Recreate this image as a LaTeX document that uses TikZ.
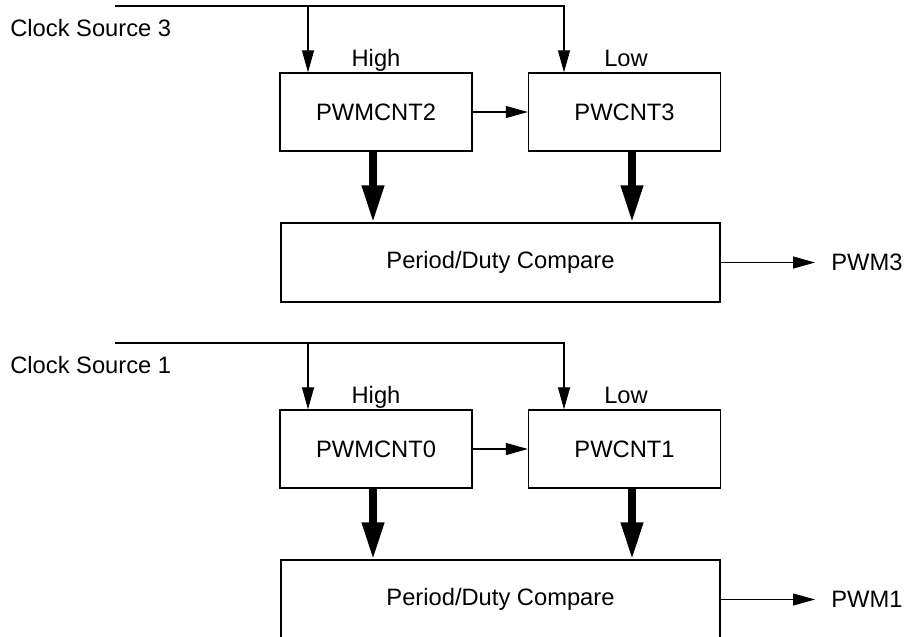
\documentclass[tikz,border=0pt]{standalone}
\usepackage{fontspec}
\setmainfont{Liberation Sans}
\usetikzlibrary{arrows.meta}
\tikzset{
  regbox/.style={draw, line width=0.75pt, minimum width=3.84cm,
    minimum height=1.56cm, inner sep=0pt},
  cmpbox/.style={draw, line width=0.75pt, minimum width=8.78cm,
    minimum height=1.58cm, inner sep=0pt},
  sigline/.style={line width=0.6pt, -{Triangle[length=4.4mm, width=2.4mm]}},
  busline/.style={line width=4pt, -{Triangle[length=7.4mm, width=4.2mm]}},
  tag/.style={inner sep=0pt}
}

\begin{document}
\begin{tikzpicture}[font=\fontsize{13.5}{16}\selectfont, line join=miter]
\useasboundingbox (0,0) rectangle (18.08,-12.72);

% ------------------------------------------------------------------
% one channel per pass: counter pair, compare stage, clock feed
% ------------------------------------------------------------------
\foreach \s/\yo/\hiname/\loname in {3/0/PWMCNT2/PWCNT3, 1/-6.74/PWMCNT0/PWCNT1}{
\begin{scope}[yshift=\yo cm]
  % counters and compare block
  \node[regbox] (hi\s) at (7.52,-2.24) {\hiname};
  \node[regbox] (lo\s) at (12.49,-2.24) {\loname};
  \node[cmpbox] (cmp\s) at (10.01,-5.25) {Period/Duty Compare};

  % labels
  \node[tag, anchor=base west] (clk\s) at (0.20,-0.72) {Clock Source \s};
  \node[tag, anchor=base] (hl\s) at ([yshift=0.12cm]hi\s.north) {High};
  \node[tag, anchor=base] (ll\s) at ([xshift=0.03cm, yshift=0.12cm]lo\s.north) {Low};
  \node[tag, anchor=west] (out\s) at (16.62,-5.24) {PWM\s};

  % clock feed
  \coordinate (src\s) at (2.30,-0.12);
  \coordinate (tap\s) at (6.16,-0.12);
  \draw[sigline] (src\s) -| ([xshift=-1.21cm]lo\s.north);
  \draw[sigline] (tap\s) -- (tap\s |- hi\s.north);

  % counter chain and outputs
  \draw[sigline] (hi\s) -- (lo\s);
  \draw[busline] ([xshift=-0.06cm]hi\s.south) -- ([xshift=-0.06cm]hi\s.south |- cmp\s.north);
  \draw[busline] ([xshift=0.15cm]lo\s.south) -- ([xshift=0.15cm]lo\s.south |- cmp\s.north);
  \draw[sigline] (cmp\s.east) -- ([xshift=-0.32cm]out\s.west |- cmp\s.east);
\end{scope}
}

\end{tikzpicture}
\end{document}
